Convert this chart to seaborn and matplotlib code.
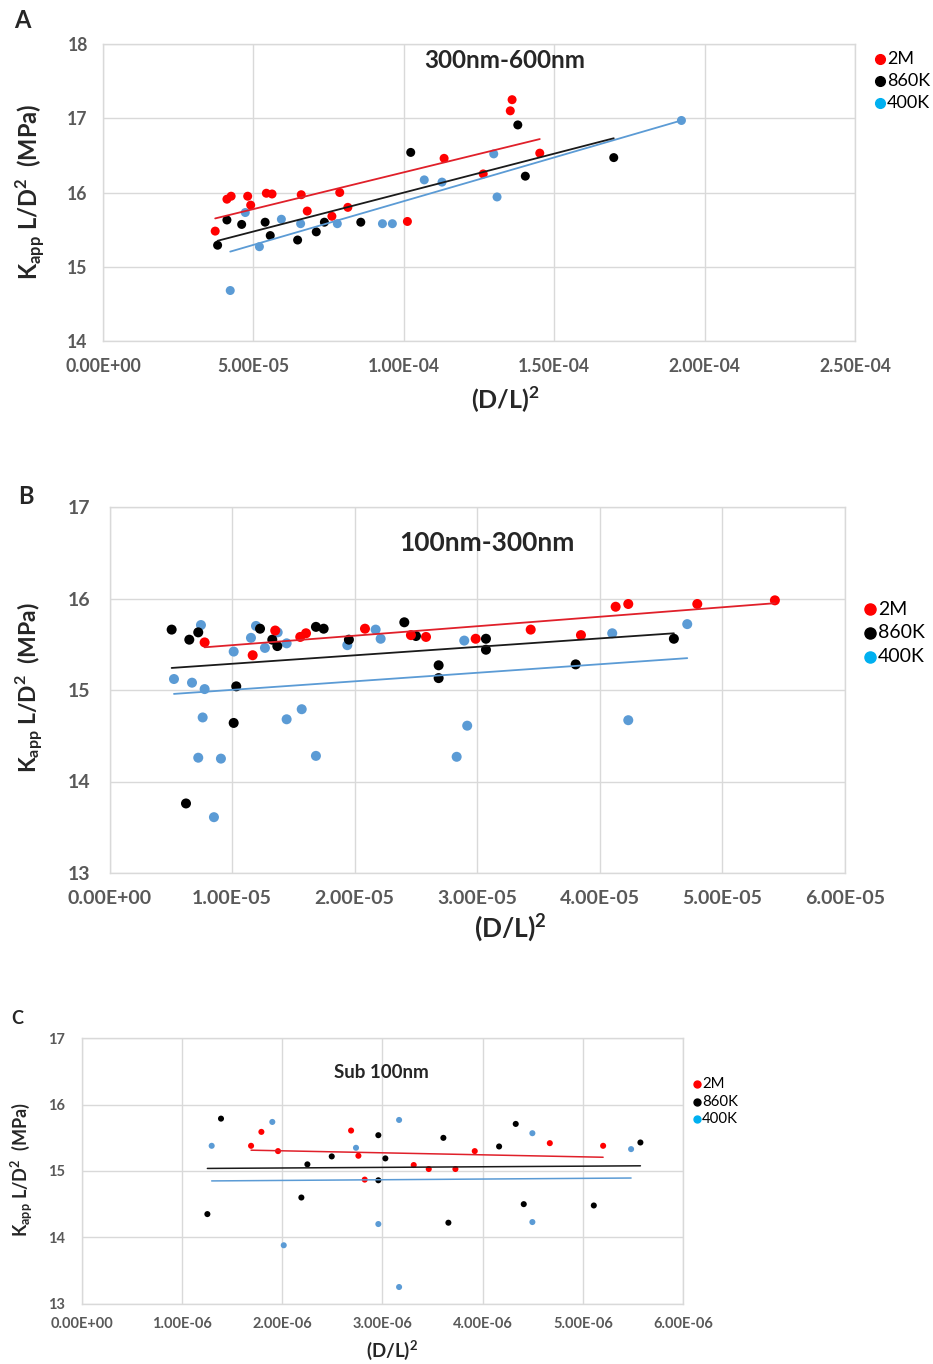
import numpy as np
import pandas as pd
import seaborn as sns
import matplotlib
matplotlib.use("Agg")
import matplotlib.pyplot as plt
from matplotlib.lines import Line2D
from matplotlib.ticker import FuncFormatter, MultipleLocator

# ---------------- data ----------------
series_names = ["2M", "860K", "400K"]

# Panel A: 300nm-600nm, x in units of 1e-5
a_2m_x = [3.73, 4.12, 4.26, 4.81, 4.91, 5.43, 5.62, 6.59, 6.79, 7.87, 8.14, 7.61, 10.12, 11.34, 12.64, 13.60, 13.54, 14.52]
a_2m_y = [15.48, 15.91, 15.95, 15.95, 15.83, 15.99, 15.98, 15.97, 15.75, 16.00, 15.80, 15.68, 15.61, 16.46, 16.25, 17.25, 17.10, 16.53]
a_860_x = [3.81, 4.12, 4.61, 5.39, 5.56, 6.47, 7.09, 7.36, 8.57, 10.23, 13.79, 14.04, 16.98]
a_860_y = [15.29, 15.63, 15.57, 15.60, 15.42, 15.36, 15.47, 15.60, 15.60, 16.54, 16.91, 16.22, 16.47]
a_400_x = [4.23, 4.73, 5.20, 5.93, 6.57, 7.79, 9.29, 9.62, 10.68, 11.27, 12.99, 13.10, 19.23]
a_400_y = [14.68, 15.73, 15.27, 15.64, 15.58, 15.58, 15.58, 15.58, 16.17, 16.14, 16.52, 15.94, 16.97]

# Panel B: 100nm-300nm, x in units of 1e-5
b_2m_x = [0.776, 1.168, 1.352, 1.556, 1.603, 2.084, 2.459, 2.582, 2.987, 3.436, 3.846, 4.129, 4.232, 4.795, 5.428]
b_2m_y = [15.52, 15.38, 15.65, 15.58, 15.62, 15.67, 15.60, 15.58, 15.56, 15.66, 15.60, 15.91, 15.94, 15.94, 15.98]
b_860_x = [0.507, 0.651, 0.724, 0.624, 1.034, 1.013, 1.228, 1.328, 1.369, 1.684, 1.747, 1.953, 2.405, 2.500, 2.685, 2.685, 3.071, 3.071, 3.803, 4.604]
b_860_y = [15.66, 15.55, 15.63, 13.76, 15.04, 14.64, 15.67, 15.55, 15.48, 15.69, 15.67, 15.55, 15.74, 15.59, 15.27, 15.13, 15.56, 15.44, 15.28, 15.56]
b_400_x = [0.746, 0.526, 0.673, 0.776, 0.760, 0.724, 0.909, 0.852, 1.013, 1.195, 1.154, 1.268, 1.372, 1.445, 1.445, 1.568, 1.684, 1.940, 2.171, 2.212, 2.894, 2.918, 2.832, 4.101, 4.713, 4.232]
b_400_y = [15.71, 15.12, 15.08, 15.01, 14.70, 14.26, 14.25, 13.61, 15.42, 15.70, 15.57, 15.46, 15.63, 15.51, 14.68, 14.79, 14.28, 15.49, 15.66, 15.56, 15.54, 14.61, 14.27, 15.62, 15.72, 14.67]

# Panel C: Sub 100nm, x in units of 1e-6
c_2m_x = [1.793, 1.690, 1.959, 2.688, 2.761, 2.824, 3.313, 3.463, 3.729, 3.922, 4.671, 5.203]
c_2m_y = [15.59, 15.38, 15.30, 15.61, 15.23, 14.87, 15.09, 15.03, 15.03, 15.30, 15.42, 15.38]
c_860_x = [1.390, 1.254, 2.192, 2.252, 2.495, 2.960, 3.030, 2.960, 3.609, 3.659, 4.165, 4.331, 4.411, 5.110, 5.575]
c_860_y = [15.79, 14.35, 14.60, 15.10, 15.22, 15.54, 15.19, 14.86, 15.50, 14.22, 15.37, 15.71, 14.50, 14.48, 15.43]
c_400_x = [1.297, 1.902, 2.016, 2.737, 2.960, 3.167, 3.167, 4.497, 4.497, 5.482]
c_400_y = [15.38, 15.74, 13.88, 15.35, 14.20, 15.77, 13.25, 15.57, 14.23, 15.33]

panel_titles = ["300nm-600nm", "100nm-300nm", "Sub 100nm"]
panel_letters = ["A", "B", "C"]

# ---------------- style ----------------
sns.set_theme(style="white")
plt.rcParams['font.family'] = ['Lato', 'DejaVu Sans']
plt.rcParams['mathtext.fontset'] = 'custom'
plt.rcParams['mathtext.rm'] = 'Lato:bold'
plt.rcParams['mathtext.bf'] = 'Lato:bold'

point_colors = {"2M": "#ff0000", "860K": "#000000", "400K": "#5b9bd5"}
line_colors = {"2M": "#e0202a", "860K": "#1a1a1a", "400K": "#5b9bd5"}
legend_colors = {"2M": "#ff0000", "860K": "#000000", "400K": "#00b0f0"}
grid_col = "#d9d9d9"
tick_col = "#595959"

W, H = 933, 1364
fig = plt.figure(figsize=(W / 100, H / 100), dpi=100)


def make_ax(left, right, top, bottom):
    return fig.add_axes([left / W, 1 - bottom / H, (right - left) / W, (bottom - top) / H])


def sci(v, pos):
    return f"{v:.2E}"


def draw_panel(ax, data, scale, xmax, xstep, ylim, s, lw, tick_fs, xpad, ypad):
    frames = []
    for name, (xs, ys) in data.items():
        frames.append(pd.DataFrame({"x": np.array(xs) * scale, "y": ys, "series": name}))
    df = pd.concat(frames, ignore_index=True)
    for name in ["400K", "860K", "2M"]:
        sub = df[df.series == name]
        sns.scatterplot(data=sub, x="x", y="y", color=point_colors[name], s=s,
                        edgecolor="none", ax=ax, zorder=3, legend=False)
    for name in ["400K", "860K", "2M"]:
        sub = df[df.series == name]
        sns.regplot(data=sub, x="x", y="y", scatter=False, ci=None, truncate=True,
                    color=line_colors[name], line_kws={"lw": lw, "zorder": 4}, ax=ax)
    ax.set_xlim(0, xmax)
    ax.set_ylim(*ylim)
    ax.xaxis.set_major_locator(MultipleLocator(xstep))
    ax.yaxis.set_major_locator(MultipleLocator(1))
    ax.xaxis.set_major_formatter(FuncFormatter(sci))
    ax.yaxis.set_major_formatter(FuncFormatter(lambda v, p: f"{v:.0f}"))
    ax.grid(True, color=grid_col, lw=1.0)
    ax.set_axisbelow(True)
    for sp in ax.spines.values():
        sp.set_color(grid_col)
        sp.set_linewidth(1.0)
    ax.tick_params(axis="both", length=0, labelsize=tick_fs, colors=tick_col)
    ax.tick_params(axis="x", pad=xpad)
    ax.tick_params(axis="y", pad=ypad)
    for lab in ax.get_xticklabels() + ax.get_yticklabels():
        lab.set_fontweight("bold")
    ax.set_xlabel("")
    ax.set_ylabel("")


def add_legend(x, y, dy, fs, ms):
    for i, name in enumerate(series_names):
        yy = y + i * dy
        fig.lines.append(Line2D([x / W], [1 - yy / H], marker="o", ms=ms, color=legend_colors[name],
                                lw=0, transform=fig.transFigure, figure=fig))
        fig.text((x + ms * 1.0) / W, 1 - yy / H, name, fontsize=fs, va="center", ha="left", color="black")


ylabel = r"K$_{\mathrm{app}}$ L/D$^{\mathrm{2}}$  (MPa)"
xlabel = r"(D/L)$^{\mathrm{2}}$"

# ---------- Panel A ----------
axA = make_ax(103, 855, 44, 341)
draw_panel(axA, {"2M": (a_2m_x, a_2m_y), "860K": (a_860_x, a_860_y), "400K": (a_400_x, a_400_y)},
           1e-5, 2.5e-4, 5e-5, (14, 18), 42, 1.3, 12.7, 12, 11)
fig.text(505 / W, 1 - 60 / H, panel_titles[0], fontsize=17.5, fontweight="bold", ha="center", va="center")
fig.text(22 / W, 1 - 20 / H, panel_letters[0], fontsize=17, fontweight="bold", ha="center", va="center")
fig.text(30 / W, 1 - 192 / H, ylabel, fontsize=17, fontweight="bold", rotation=90, ha="center", va="center")
fig.text(505 / W, 1 - 400 / H, xlabel, fontsize=18, fontweight="bold", ha="center", va="center")
add_legend(880, 59, 22, 13, 7)

# ---------- Panel B ----------
axB = make_ax(109.5, 845, 507, 873)
draw_panel(axB, {"2M": (b_2m_x, b_2m_y), "860K": (b_860_x, b_860_y), "400K": (b_400_x, b_400_y)},
           1e-5, 6e-5, 1e-5, (13, 17), 52, 1.3, 14, 12, 14)
fig.text(487 / W, 1 - 543 / H, panel_titles[1], fontsize=19, fontweight="bold", ha="center", va="center")
fig.text(26 / W, 1 - 497 / H, panel_letters[1], fontsize=17, fontweight="bold", ha="center", va="center")
fig.text(30 / W, 1 - 688 / H, ylabel, fontsize=16.5, fontweight="bold", rotation=90, ha="center", va="center")
fig.text(510 / W, 1 - 928 / H, xlabel, fontsize=19, fontweight="bold", ha="center", va="center")
add_legend(870, 609, 24, 14, 8)

# ---------- Panel C ----------
axC = make_ax(81.7, 683, 1038.4, 1303.6)
draw_panel(axC, {"2M": (c_2m_x, c_2m_y), "860K": (c_860_x, c_860_y), "400K": (c_400_x, c_400_y)},
           1e-6, 6e-6, 1e-6, (13, 17), 19, 1.1, 10.5, 10, 12)
fig.text(381 / W, 1 - 1072 / H, panel_titles[2], fontsize=13.5, fontweight="bold", ha="center", va="center")
fig.text(17 / W, 1 - 1018 / H, panel_letters[2], fontsize=13, fontweight="bold", ha="center", va="center")
fig.text(22 / W, 1 - 1170 / H, ylabel, fontsize=13, fontweight="bold", rotation=90, ha="center", va="center")
fig.text(392 / W, 1 - 1350 / H, xlabel, fontsize=13.5, fontweight="bold", ha="center", va="center")
add_legend(697, 1084, 17.5, 10.8, 5)

fig.savefig("out.png", dpi=100, facecolor="white")
